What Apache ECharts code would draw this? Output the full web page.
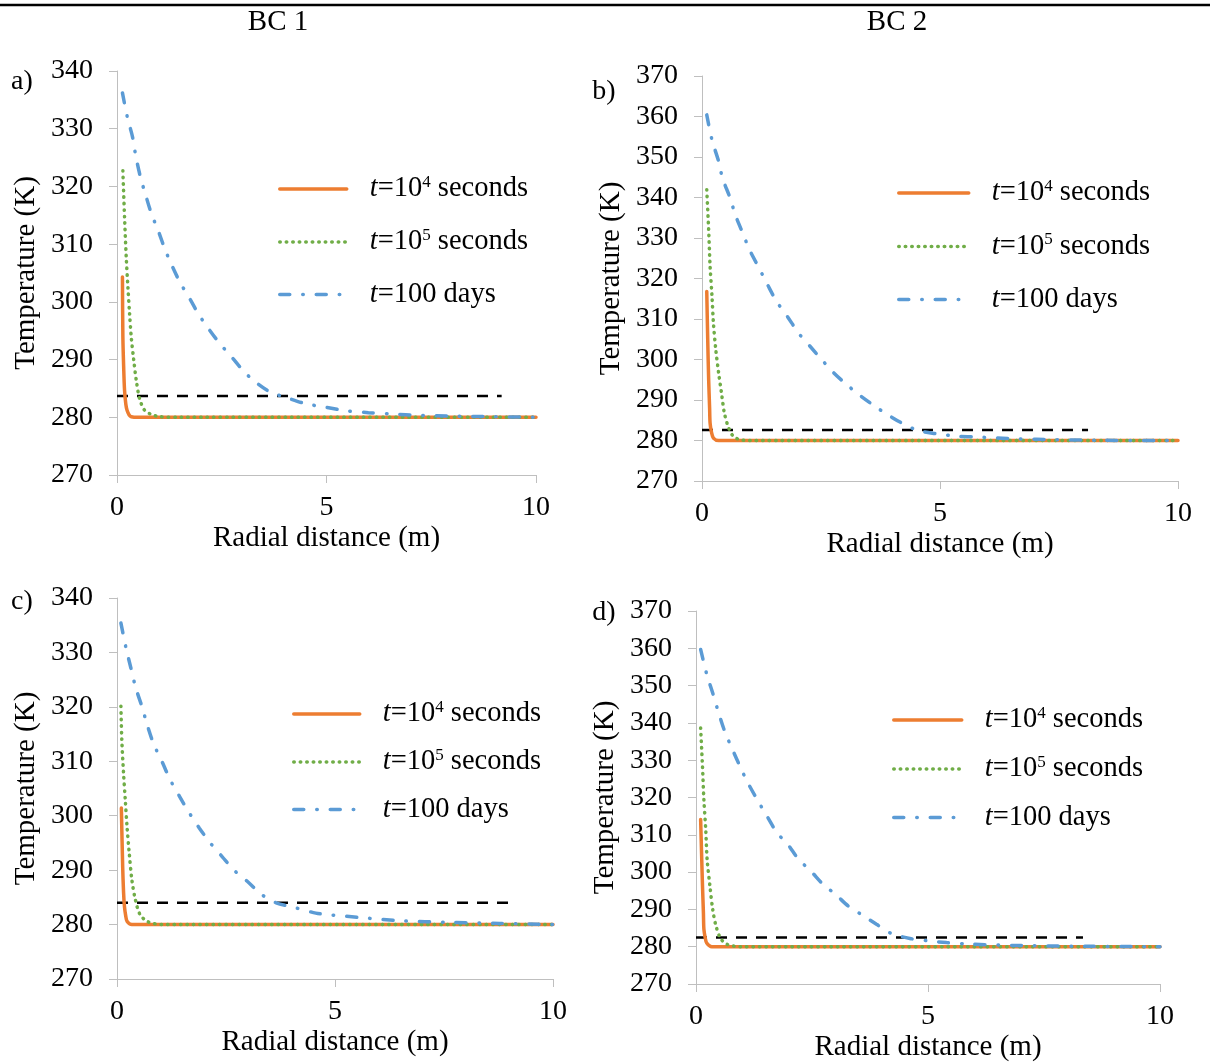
<!DOCTYPE html>
<html>
<head>
<meta charset="utf-8">
<script src="https://cdn.jsdelivr.net/npm/echarts@6/dist/echarts.min.js"></script>
<style>
html,body{margin:0;padding:0;background:#fff;}
#chart{width:1210px;height:1063px;}
</style>
</head>
<body>
<div id="chart"></div>
<script>
// ---------- DATA ----------
const panelLabels = ['a)', 'b)', 'c)', 'd)'];
const columnTitles = ['BC 1', 'BC 2'];
const seriesNames = ['t=10^4 seconds', 't=10^5 seconds', 't=100 days'];
const xTitle = 'Radial distance (m)';
const yTitle = 'Temperature (K)';
const xRange = [0, 10, 5];
const yRanges = [[270, 340], [270, 370], [270, 340], [270, 370]];

// Panel a (BC 1)
const a_t1e4 = [[0.13,304.3],[0.14,294],[0.16,288.5],[0.18,284.7],[0.21,282.3],[0.24,281.2],[0.29,280.4],[0.34,280.1],[0.5,280],[1,280],[10,280]];
const a_t1e5 = [[0.14,322.7],[0.18,314.7],[0.22,307.8],[0.26,302.6],[0.30,298],[0.34,293.9],[0.40,289.9],[0.46,286.4],[0.54,283.2],[0.66,281.2],[0.82,280.5],[1.02,280.1],[1.5,280],[10,280]];
const a_t100d = [[0.13,336.2],[0.25,331.9],[0.37,328.6],[0.45,325.2],[0.56,321.6],[0.68,318.6],[0.82,315.3],[0.98,312.4],[1.14,309.2],[1.31,306.3],[1.51,303.3],[1.74,300.5],[1.96,297.7],[2.2,295.2],[2.45,292.8],[2.72,290.6],[3.01,288.1],[3.27,286.3],[3.65,284.4],[4.05,283.4],[4.48,282.4],[5.0,281.7],[5.5,281.1],[6.0,280.8],[6.5,280.6],[7.0,280.4],[8.0,280.2],[9.0,280.1],[10,280]];
const a_ref = [[0, 283.7], [9.18, 283.7]];

// Panel b (BC 2)
const b_t1e4 = [[0.10,316.8],[0.12,305],[0.14,295],[0.16,288],[0.17,284.3],[0.20,282],[0.24,280.6],[0.35,280],[1,280],[10,280]];
const b_t1e5 = [[0.10,341.9],[0.14,332],[0.17,323],[0.21,315.6],[0.24,309],[0.29,302.4],[0.35,296.6],[0.41,291.7],[0.47,286.8],[0.56,283.1],[0.66,281],[0.80,280.2],[0.97,280],[10,280]];
const b_t100d = [[0.10,360.4],[0.21,354.2],[0.35,348.9],[0.43,344.8],[0.59,339.9],[0.70,335.7],[0.87,330.8],[1.01,326.8],[1.22,322.1],[1.38,318.4],[1.57,314.3],[1.80,310.5],[2.03,306.5],[2.26,303.4],[2.52,299.9],[2.76,296.8],[3.04,293.8],[3.31,291.2],[3.64,288.4],[3.91,286.3],[4.20,284.3],[4.53,282.5],[4.90,281.7],[5.39,281.0],[5.70,280.9],[6.61,280.4],[7.45,280.2],[8.36,280.05],[10,280]];
const b_ref = [[0, 282.6], [8.11, 282.6]];

// Panel c (BC 1)
const c_t1e4 = [[0.10,301.4],[0.13,290.7],[0.15,286],[0.17,283.4],[0.20,281.6],[0.23,280.6],[0.34,280],[1,280],[10,280]];
const c_t1e5 = [[0.09,320.1],[0.11,314],[0.15,307.8],[0.19,302.9],[0.23,298],[0.28,293.2],[0.34,288.3],[0.42,284.6],[0.53,281.8],[0.69,280.6],[0.84,280.2],[0.99,280],[10,280]];
const c_t100d = [[0.09,335.4],[0.21,330.7],[0.32,327.1],[0.43,323.5],[0.57,320.1],[0.70,316.5],[0.84,313.2],[1.04,309.8],[1.22,306.6],[1.43,303.6],[1.66,300.5],[1.89,297.7],[2.14,295.0],[2.41,292.5],[2.71,289.8],[2.98,288.0],[3.32,285.5],[3.65,284.0],[4.09,283.1],[4.56,282.1],[4.87,281.8],[5.57,281.3],[6.49,280.7],[7.63,280.4],[8.78,280.2],[10,280]];
const c_ref = [[0, 284.0], [9.06, 284.0]];

// Panel d (BC 2)
const d_t1e4 = [[0.10,314.1],[0.12,305],[0.14,296.3],[0.16,289],[0.17,284.7],[0.20,282.3],[0.23,281],[0.34,280],[1,280],[10,280]];
const d_t1e5 = [[0.10,338.6],[0.14,328.3],[0.17,319.4],[0.21,311.4],[0.24,303.4],[0.30,296.3],[0.36,290],[0.43,285.6],[0.53,282.2],[0.66,280.7],[0.84,280.1],[1.0,280],[10,280]];
const d_t100d = [[0.10,359.7],[0.23,353.1],[0.36,348.0],[0.48,343.0],[0.62,337.7],[0.77,333.3],[0.95,328.3],[1.11,324.1],[1.34,319.0],[1.52,315.2],[1.75,310.5],[1.98,307.4],[2.2,303.6],[2.48,300.2],[2.74,296.7],[3.01,294.0],[3.28,290.9],[3.58,288.5],[3.89,286.0],[4.20,283.6],[4.61,282.2],[4.99,281.6],[5.40,281.1],[5.87,280.7],[7.0,280.3],[8.5,280.1],[10,280]];
const d_ref = [[0, 282.5], [8.34, 282.5]];

const panelData = [
  [a_t1e4, a_t1e5, a_t100d, a_ref],
  [b_t1e4, b_t1e5, b_t100d, b_ref],
  [c_t1e4, c_t1e5, c_t100d, c_ref],
  [d_t1e4, d_t1e5, d_t100d, d_ref]
];

// ---------- LAYOUT / STYLE ----------
const FONT = "'Liberation Serif', 'Times New Roman', serif";
const grids = [
  {left: 117, top: 71, width: 419, height: 404},
  {left: 702, top: 76, width: 476, height: 405},
  {left: 117, top: 598, width: 436, height: 381},
  {left: 696, top: 611, width: 464, height: 374}
];
const legendPos = [
  {left: 278, top: 174, itemWidth: 67, gap: 23.5},
  {left: 897, top: 178, itemWidth: 70, gap: 24},
  {left: 292, top: 699, itemWidth: 66, gap: 18.5},
  {left: 892, top: 705, itemWidth: 68, gap: 19.5}
];
const labelPos = [[22, 82], [604, 92], [22, 602], [604, 613]];
const titlePos = [[278, 22], [897, 22]];

const colors = ['#ED7D31', '#70AD47', '#5B9BD5', '#000000'];
const lineStyles = [
  {width: 3.5, type: 'solid', cap: 'round'},
  {width: 3.5, type: [0.5, 6], cap: 'round'},
  {width: 3.5, type: [10, 13, 0.5, 13], cap: 'round'},
  {width: 2.5, type: [11, 9], cap: 'butt'}
];
const seriesZ = [2, 3, 4, 1];
const AXIS_COLOR = '#bfbfbf';

const grid = [], xAxis = [], yAxis = [], series = [], legend = [];
for (let p = 0; p < 4; p++) {
  grid.push(Object.assign({containLabel: false}, grids[p]));
  xAxis.push({
    type: 'value', gridIndex: p, min: xRange[0], max: xRange[1], interval: xRange[2],
    name: xTitle, nameLocation: 'middle', nameGap: 49,
    nameTextStyle: {fontFamily: FONT, fontSize: 29, color: '#000'},
    axisLine: {show: true, onZero: false, lineStyle: {color: AXIS_COLOR, width: 1}},
    axisTick: {show: true, inside: false, length: 8, lineStyle: {color: AXIS_COLOR}},
    axisLabel: {fontFamily: FONT, fontSize: 28, color: '#000', margin: 19},
    splitLine: {show: false}
  });
  yAxis.push({
    type: 'value', gridIndex: p, min: yRanges[p][0], max: yRanges[p][1], interval: 10,
    name: yTitle, nameLocation: 'middle', nameGap: 76, nameRotate: 90,
    nameTextStyle: {fontFamily: FONT, fontSize: 29, color: '#000'},
    axisLine: {show: true, lineStyle: {color: AXIS_COLOR, width: 1}},
    axisTick: {show: true, inside: false, length: 8, lineStyle: {color: AXIS_COLOR}},
    axisLabel: {fontFamily: FONT, fontSize: 28, color: '#000', margin: 24},
    splitLine: {show: false}
  });
  for (let s = 0; s < 4; s++) {
    series.push({
      type: 'line',
      name: s < 3 ? seriesNames[s] : 'reference' + p,
      xAxisIndex: p, yAxisIndex: p,
      data: panelData[p][s],
      showSymbol: false, symbol: 'none',
      smooth: s < 3 ? 0.3 : false,
      color: colors[s],
      lineStyle: Object.assign({color: colors[s]}, lineStyles[s]),
      z: seriesZ[s],
      animation: false,
      silent: true
    });
  }
  const lp = legendPos[p];
  legend.push({
    orient: 'vertical', left: lp.left, top: lp.top, padding: 0,
    itemWidth: lp.itemWidth, itemHeight: 14, itemGap: lp.gap,
    selectedMode: false,
    itemStyle: {opacity: 0, color: 'transparent', borderWidth: 0},
    lineStyle: {width: 3.5, cap: 'round'},
    data: seriesNames,
    formatter: function (name) {
      if (name === seriesNames[0]) return '{i|t}{n|=10}{s|4}{n| seconds}';
      if (name === seriesNames[1]) return '{i|t}{n|=10}{s|5}{n| seconds}';
      return '{i|t}{n|=100 days}';
    },
    textStyle: {
      padding: [0, 0, 0, 18],
      rich: {
        i: {fontFamily: FONT, fontSize: 28.5, fontStyle: 'italic', color: '#000', lineHeight: 30},
        n: {fontFamily: FONT, fontSize: 28.5, color: '#000', lineHeight: 30},
        s: {fontFamily: FONT, fontSize: 17, color: '#000', lineHeight: 17, verticalAlign: 'top'}
      }
    }
  });
}

const graphic = [
  {type: 'line', shape: {x1: 0, y1: 5, x2: 1210, y2: 5}, style: {stroke: '#000', lineWidth: 2.5}, silent: true}
];
columnTitles.forEach((t, i) => graphic.push({
  type: 'text', x: titlePos[i][0], y: titlePos[i][1],
  style: {text: t, fontFamily: FONT, fontSize: 29, fill: '#000', align: 'center', verticalAlign: 'middle'}
}));
panelLabels.forEach((t, i) => graphic.push({
  type: 'text', x: labelPos[i][0], y: labelPos[i][1],
  style: {text: t, fontFamily: FONT, fontSize: 28, fill: '#000', align: 'center', verticalAlign: 'middle'}
}));

const chart = echarts.init(document.getElementById('chart'), null, {renderer: 'canvas'});
chart.setOption({
  backgroundColor: '#ffffff',
  animation: false,
  grid, xAxis, yAxis, series, legend, graphic
});
</script>
</body>
</html>
